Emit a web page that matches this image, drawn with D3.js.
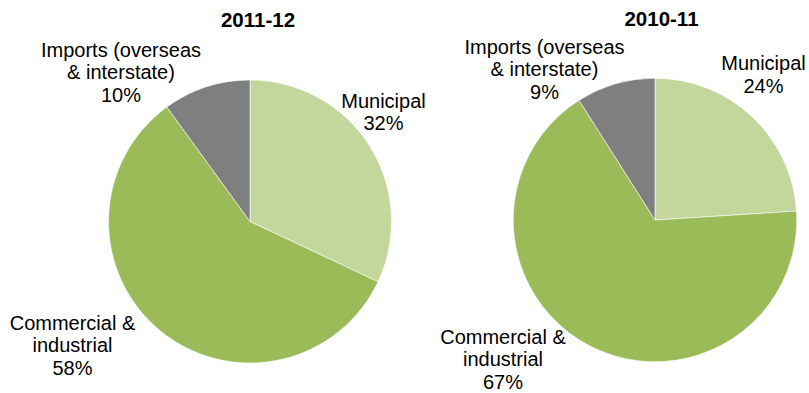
<!DOCTYPE html>
<html>
<head>
<meta charset="utf-8">
<script src="https://cdn.jsdelivr.net/npm/d3@7"></script>
<style>
  html, body { margin: 0; padding: 0; background: #fff; }
  svg { display: block; }
  text { font-family: "Liberation Sans", Arial, sans-serif; fill: #000; }
</style>
</head>
<body>
<svg id="chart" width="809" height="393"></svg>
<script>
// Waste sources, share of total (%)
const categories = ["Municipal", "Commercial & industrial", "Imports (overseas & interstate)"];
const categoryLines = [
  ["Municipal"],
  ["Commercial &", "industrial"],
  ["Imports (overseas", "& interstate)"]
];
const years = ["2011-12", "2010-11"];
const values2011 = [32, 58, 10];
const values2010 = [24, 67, 9];
const colors = ["#c3d69b", "#9bbb59", "#7f7f7f"];

// Layout for each pie: centre, radius, title and label anchors (centre x, first baseline y)
const panels = [
  {
    year: years[0], values: values2011,
    cx: 250, cy: 221.5, r: 141.5,
    titleX: 258, titleY: 27,
    labels: [[383.5, 107.5], [72.5, 329.5], [121, 56.5]]
  },
  {
    year: years[1], values: values2010,
    cx: 655, cy: 220, r: 141.8,
    titleX: 661.5, titleY: 26,
    labels: [[763.5, 70], [503, 343.5], [544.5, 53.5]]
  }
];

const fontSize = 20;
const titleSize = 20.5;
const lineGap = 22.5;

const svg = d3.select("#chart");
const color = d3.scaleOrdinal().domain(categories).range(colors);
const pie = d3.pie().sort(null).value(d => d.value);

panels.forEach(p => {
  const data = categories.map((c, i) => ({ category: c, value: p.values[i], lines: categoryLines[i] }));
  const arcs = pie(data);
  const arc = d3.arc().innerRadius(0).outerRadius(p.r);

  const g = svg.append("g").attr("transform", `translate(${p.cx},${p.cy})`);
  g.selectAll("path")
    .data(arcs)
    .join("path")
    .attr("d", arc)
    .attr("fill", d => color(d.data.category))
    .attr("stroke", "#fff")
    .attr("stroke-width", 0.6);

  svg.append("text")
    .attr("x", p.titleX)
    .attr("y", p.titleY)
    .attr("text-anchor", "middle")
    .attr("font-size", titleSize)
    .attr("font-weight", "bold")
    .text(p.year);

  arcs.forEach((a, i) => {
    const [lx, ly] = p.labels[i];
    const lines = a.data.lines.concat([a.data.value + "%"]);
    const t = svg.append("text")
      .attr("text-anchor", "middle")
      .attr("font-size", fontSize);
    lines.forEach((ln, k) => {
      t.append("tspan")
        .attr("x", lx)
        .attr("y", ly + k * lineGap)
        .text(ln);
    });
  });
});
</script>
</body>
</html>
